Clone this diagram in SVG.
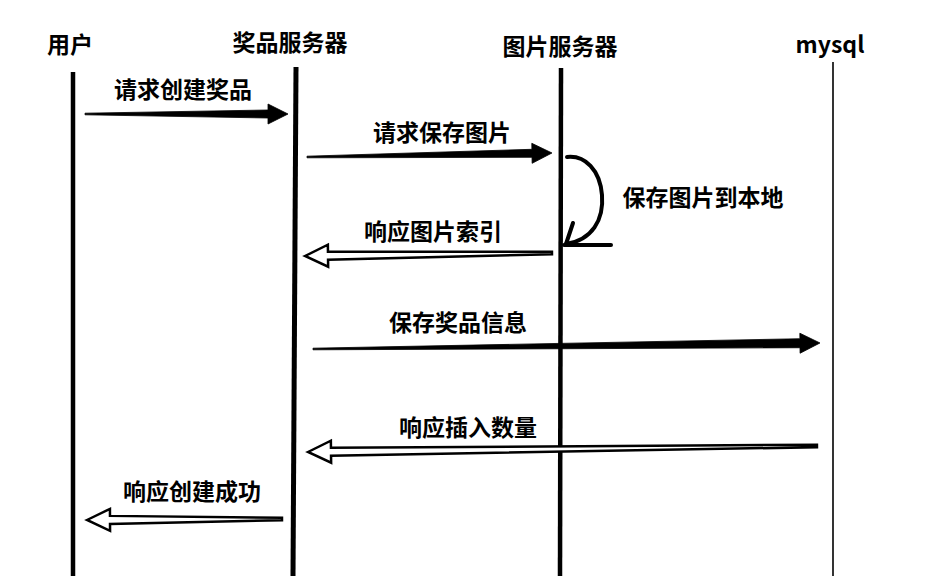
<svg xmlns="http://www.w3.org/2000/svg" width="945" height="576" viewBox="0 0 945 576">
<style>
  .t { font-family: "Noto Sans CJK SC", "Noto Sans", sans-serif; font-weight: bold; font-size: 23px; fill: #000; text-anchor: middle; }
  .life { stroke: #000; fill: none; stroke-linecap: butt; }
  .solid { fill: #000; stroke: #000; stroke-width: 0.8; stroke-linejoin: miter; }
  .hollow { fill: #fff; stroke: #000; stroke-width: 2.5; stroke-linejoin: miter; }
  .loop { fill: none; stroke: #000; stroke-width: 4; stroke-linecap: round; stroke-linejoin: round; }
</style>
<rect width="945" height="576" fill="#fff"/>

<g id="user">
  <line class="life" x1="73" y1="72" x2="73" y2="576" stroke-width="4.5"/>
  <text class="t" x="70" y="53">用户</text>
</g>
<g id="prize-server">
  <line class="life" x1="296" y1="67" x2="293" y2="576" stroke-width="5"/>
  <text class="t" x="290" y="51">奖品服务器</text>
</g>
<g id="image-server">
  <line class="life" x1="561" y1="68" x2="560" y2="576" stroke-width="4.5"/>
  <text class="t" x="560" y="55">图片服务器</text>
</g>
<g id="mysql">
  <line class="life" x1="833" y1="62" x2="833" y2="576" stroke-width="1.6"/>
  <text class="t" x="830" y="53">mysql</text>
</g>

<g id="connectors">
  <!-- 1 请求创建奖品 -->
  <g transform="translate(85,114)">
    <polygon class="solid" points="0,-0.8 183,-4 183,-10 203,0 183,10 183,4 0,0.8"/>
  </g>
  <text class="t" x="183" y="98">请求创建奖品</text>

  <!-- 2 请求保存图片 -->
  <g transform="translate(307,157) rotate(-0.94)">
    <polygon class="solid" points="0,-0.8 225,-4 225,-10 245,0 225,10 225,4 0,0.8"/>
  </g>
  <text class="t" x="442" y="141">请求保存图片</text>

  <!-- 3 self loop 保存图片到本地 -->
  <path class="loop" d="M567,157 C585,155 600,170 602,195 C604,220 592,240 566,244"/>
  <line class="loop" x1="573" y1="223" x2="566" y2="244"/>
  <line class="loop" x1="564" y1="245" x2="611" y2="245" stroke-linecap="butt"/>
  <text class="t" x="703" y="206">保存图片到本地</text>

  <!-- 4 响应图片索引 -->
  <g transform="translate(305,256) rotate(-0.7)">
    <polygon class="hollow" points="0,0 23,-11 23,-4 247,-1.2 247,1.2 23,4 23,11"/>
  </g>
  <text class="t" x="433" y="240">响应图片索引</text>

  <!-- 5 保存奖品信息 -->
  <g transform="translate(313,349) rotate(-0.68)">
    <polygon class="solid" points="0,-0.8 487,-4.5 487,-10 507,0 487,10 487,4.5 0,0.8"/>
  </g>
  <text class="t" x="458" y="331">保存奖品信息</text>

  <!-- 6 响应插入数量 -->
  <g transform="translate(308,452) rotate(-0.68)">
    <polygon class="hollow" points="0,0 23,-11 23,-4 509,-1.2 509,1.2 23,4 23,11"/>
  </g>
  <text class="t" x="468" y="436">响应插入数量</text>

  <!-- 7 响应创建成功 -->
  <g transform="translate(87,520) rotate(-0.3)">
    <polygon class="hollow" points="0,0 23,-11 23,-4 195,-1.2 195,1.2 23,4 23,11"/>
  </g>
  <text class="t" x="192" y="500">响应创建成功</text>
</g>
</svg>
